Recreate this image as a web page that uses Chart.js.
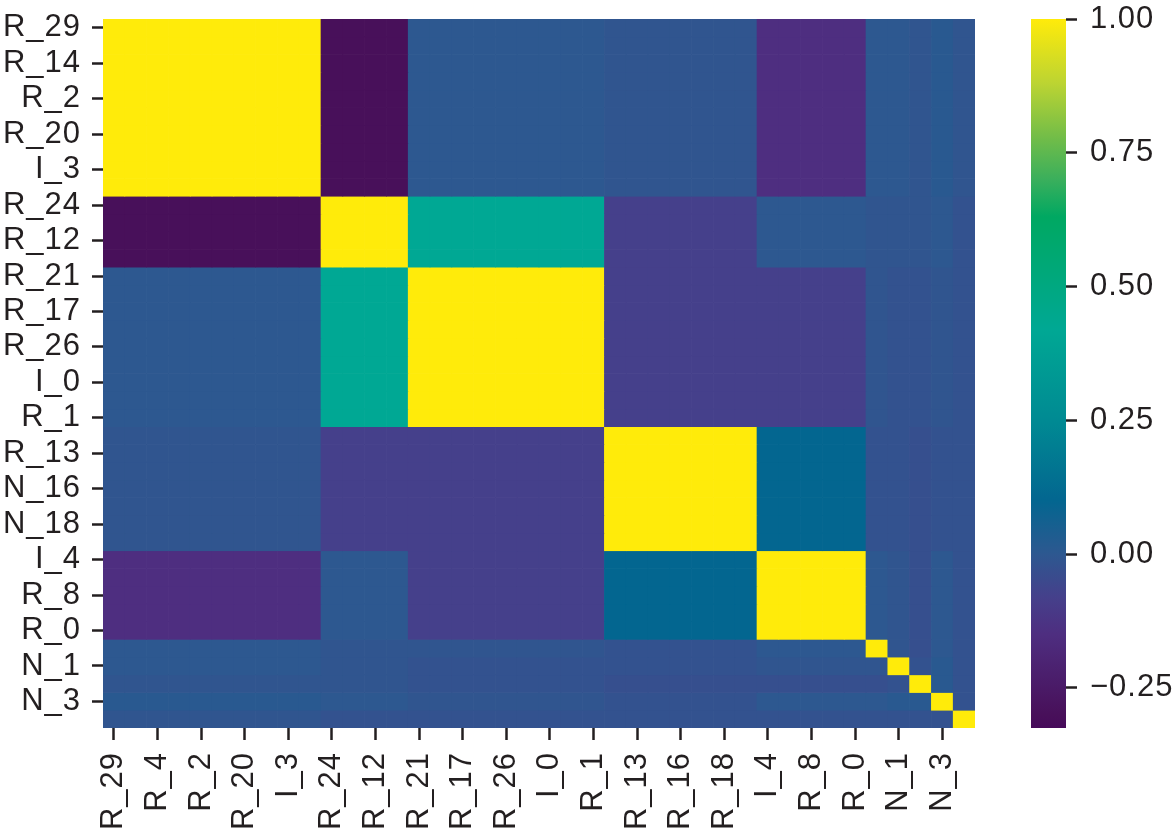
<!DOCTYPE html>
<html>
<head>
<meta charset="utf-8">
<script src="https://cdn.jsdelivr.net/npm/chart.js@4"></script>
<style>
  html, body { margin: 0; padding: 0; background: #fff; }
  #wrap { position: relative; width: 1174px; height: 831px; }
  #heat { position: absolute; left: 0; top: 0; }
  #bar { position: absolute; left: 1000px; top: 0; }
</style>
</head>
<body>
<div id="wrap">
  <canvas id="heat" width="1000" height="831"></canvas>
  <canvas id="bar" width="174" height="831"></canvas>
</div>
<script>
// tick labels as printed (every other variable is labelled)
const xTickLabels = ["R_29", "R_4", "R_2", "R_20", "I_3", "R_24", "R_12", "R_21", "R_17", "R_26",
  "I_0", "R_1", "R_13", "R_16", "R_18", "I_4", "R_8", "R_0", "N_1", "N_3"];
const yTickLabels = ["R_29", "R_14", "R_2", "R_20", "I_3", "R_24", "R_12", "R_21", "R_17", "R_26",
  "I_0", "R_1", "R_13", "N_16", "N_18", "I_4", "R_8", "R_0", "N_1", "N_3"];

// variables come in correlated groups (block sizes along the diagonal)
const groupSizes = [10, 4, 9, 7, 5, 1, 1, 1, 1, 1];

// correlation between groups
const groupCorr = [
  [ 1.00, -0.30,  0.00, -0.01, -0.15,  0.00,  0.00, -0.01,  0.01, -0.01],
  [-0.30,  1.00,  0.42, -0.08,  0.00, -0.01, -0.01, -0.01,  0.00, -0.02],
  [ 0.00,  0.42,  1.00, -0.08, -0.08, -0.01, -0.02, -0.02, -0.01, -0.02],
  [-0.01, -0.08, -0.08,  1.00,  0.10, -0.02, -0.02, -0.03, -0.02, -0.02],
  [-0.15,  0.00, -0.08,  0.10,  1.00,  0.00, -0.01, -0.03,  0.00, -0.02],
  [ 0.00, -0.01, -0.01, -0.02,  0.00,  1.00, -0.01, -0.03,  0.00, -0.02],
  [ 0.00, -0.01, -0.02, -0.02, -0.01, -0.01,  1.00, -0.02,  0.01, -0.02],
  [-0.01, -0.01, -0.02, -0.03, -0.03, -0.03, -0.02,  1.00,  0.01, -0.02],
  [ 0.01,  0.00, -0.01, -0.02,  0.00,  0.00,  0.01,  0.01,  1.00, -0.02],
  [-0.01, -0.02, -0.02, -0.02, -0.02, -0.02, -0.02, -0.02, -0.02,  1.00]
];

const colorbarTicks = [-0.25, 0, 0.25, 0.5, 0.75, 1.0];
const vmin = -0.325;
const vmax = 1.0;

// colour map (viridis as printed)
const cmap = [
  [-0.325, "#460a5a"],
  [-0.30, "#48105a"],
  [-0.15, "#4e2e80"],
  [-0.08, "#45408b"],
  [0.00, "#2d5890"],
  [0.10, "#036690"],
  [0.25, "#008a93"],
  [0.42, "#00a894"],
  [0.55, "#00a874"],
  [0.63, "#00a862"],
  [0.70, "#3aaf5c"],
  [0.78, "#73bd48"],
  [0.88, "#bcd432"],
  [1.00, "#ffeb0a"]
];

function hexToRgb(h) {
  return [1, 3, 5].map(i => parseInt(h.substr(i, 2), 16));
}

function colorFor(v) {
  if (v <= cmap[0][0]) return cmap[0][1];
  for (let i = 1; i < cmap.length; i++) {
    if (v <= cmap[i][0]) {
      const [v0, c0] = cmap[i - 1];
      const [v1, c1] = cmap[i];
      const t = (v - v0) / (v1 - v0);
      const a = hexToRgb(c0), b = hexToRgb(c1);
      const rgb = a.map((x, k) => Math.round(x + (b[k] - x) * t));
      return `rgb(${rgb.join(",")})`;
    }
  }
  return cmap[cmap.length - 1][1];
}

const varGroup = groupSizes.flatMap((n, g) => Array(n).fill(g));
const n = varGroup.length;
const cols = varGroup.map((_, i) => String(i));

const font = { family: "'Liberation Sans', Arial, Helvetica, sans-serif", size: 31 };
const ink = "#231f20";

// slightly wider text, like the printed figure
const spacing = {
  id: "spacing",
  beforeDraw(chart) { chart.ctx.letterSpacing = "1px"; }
};

// fixed axis size, and no extra room for the end labels
function fixSize(w, h) {
  return (s) => {
    if (w !== null) s.width = w;
    if (h !== null) s.height = h;
    s.paddingTop = 0; s.paddingBottom = 0;
    s.paddingLeft = 0; s.paddingRight = 0;
  };
}

// one dataset per row, each bar spans [row, row+1]
const datasets = varGroup.map((gr, r) => ({
  data: cols.map(() => [r, r + 1]),
  backgroundColor: varGroup.map(gc => colorFor(groupCorr[gr][gc])),
  borderWidth: 0,
  barPercentage: 1,
  categoryPercentage: 1
}));

new Chart(document.getElementById("heat"), {
  type: "bar",
  data: { labels: cols, datasets: datasets },
  plugins: [spacing],
  options: {
    responsive: false,
    animation: false,
    layout: { autoPadding: false, padding: { top: 19, right: 25, left: 0, bottom: 0 } },
    plugins: { legend: { display: false }, tooltip: { enabled: false } },
    scales: {
      x: {
        stacked: true,
        grid: { offset: false, drawOnChartArea: false, tickLength: 12, tickColor: ink, tickWidth: 2.5 },
        border: { display: false },
        ticks: {
          autoSkip: false, minRotation: 90, maxRotation: 90, padding: 12,
          color: ink, font: font,
          callback: (v) => xTickLabels[v / 2]
        },
        afterBuildTicks: (s) => { s.ticks = s.ticks.filter((t, i) => i % 2 === 0); },
        afterFit: fixSize(null, 103)
      },
      y: {
        stacked: false,
        min: 0, max: n, reverse: true,
        grid: { drawOnChartArea: false, tickLength: 11, tickColor: ink, tickWidth: 2.5 },
        border: { display: false },
        ticks: {
          autoSkip: false, padding: 11, color: ink, font: font,
          callback: (v) => yTickLabels[(v - 0.5) / 2]
        },
        afterBuildTicks: (s) => { s.ticks = yTickLabels.map((_, k) => ({ value: 2 * k + 0.5 })); },
        afterFit: fixSize(103, null)
      }
    }
  }
});

// colour bar
new Chart(document.getElementById("bar"), {
  type: "bar",
  data: {
    labels: [""],
    datasets: [{
      data: [[vmin, vmax]],
      borderWidth: 0,
      barPercentage: 1,
      categoryPercentage: 1,
      backgroundColor: (ctx) => {
        const c = ctx.chart;
        if (!c.chartArea) return null;
        const ys = c.scales.y;
        const g = c.ctx.createLinearGradient(0, ys.getPixelForValue(vmin), 0, ys.getPixelForValue(vmax));
        cmap.forEach(([v, col]) => g.addColorStop((v - vmin) / (vmax - vmin), col));
        return g;
      }
    }]
  },
  plugins: [spacing],
  options: {
    responsive: false,
    animation: false,
    layout: { autoPadding: false, padding: { top: 19, left: 31, right: 0, bottom: 103 } },
    plugins: { legend: { display: false }, tooltip: { enabled: false } },
    scales: {
      x: { display: false },
      y: {
        position: "right",
        min: vmin, max: vmax,
        grid: { drawOnChartArea: false, tickLength: 11, tickColor: ink, tickWidth: 2.5 },
        border: { display: false },
        ticks: {
          padding: 13, color: ink, font: font,
          callback: (v) => (v < 0 ? "\u2212" : "") + Math.abs(v).toFixed(2)
        },
        afterBuildTicks: (s) => { s.ticks = colorbarTicks.map(v => ({ value: v })); },
        afterFit: fixSize(108, null)
      }
    }
  }
});
</script>
</body>
</html>
